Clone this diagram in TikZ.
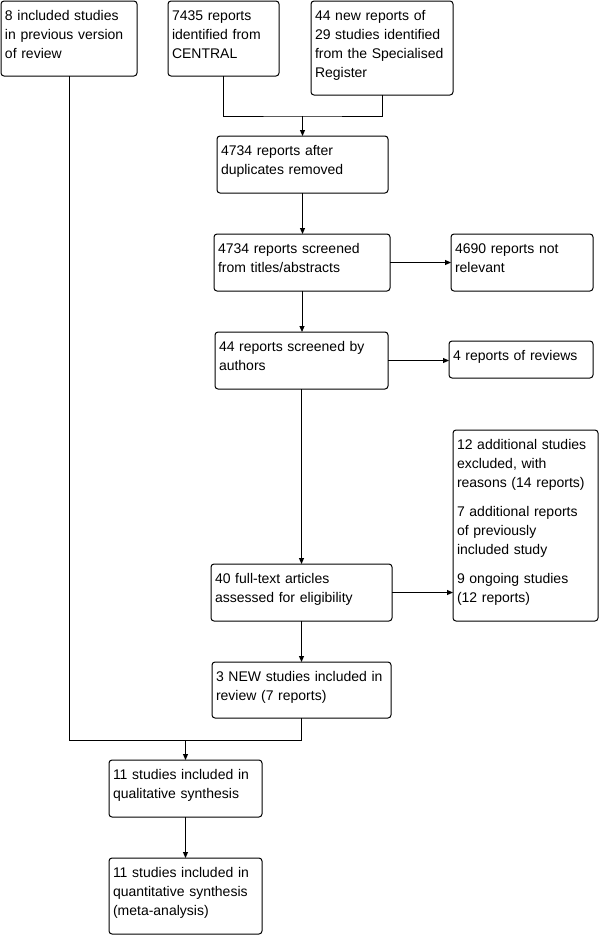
\documentclass[tikz,border=0pt]{standalone}
\usepackage{fontspec}
\setmainfont{Liberation Sans}
\usetikzlibrary{arrows.meta}

\tikzset{
    flowbox/.style={draw, line width=1pt, rounded corners=3pt, anchor=north west,
        align=left, inner xsep=4pt, inner ysep=7.5pt, outer sep=0pt,
        text height=12pt, font=\fontsize{14pt}{19pt}\selectfont},
    flowline/.style={line width=1pt},
    flowarrow/.style={line width=1pt, -{Triangle[length=6pt,width=5pt]}}
}

\begin{document}
\begin{tikzpicture}[x=1pt, y=-1pt]
    \useasboundingbox (0,0) rectangle (600,935);

    % Sources of records
    \node[flowbox, text width=128pt, text depth=48pt] (prev) at (1,1)
        {8 included studies\\in previous version\\of review};
    \node[flowbox, text width=103pt, text depth=48pt] (central) at (168,1)
        {7435 reports\\identified from\\CENTRAL};
    \node[flowbox, text width=134pt, text depth=67pt] (register) at (311,1)
        {44 new reports of\\29 studies identified\\from the Specialised\\Register};

    % Screening column
    \node[flowbox, text width=163pt, text depth=30pt] (dedup) at (217,136)
        {4734 reports after\\duplicates removed};
    \node[flowbox, text width=168pt, text depth=30pt] (titles) at (214,234)
        {4734 reports screened\\from titles/abstracts};
    \node[flowbox, text width=165pt, text depth=30pt] (authors) at (215,332)
        {44 reports screened by\\authors};
    \node[flowbox, text width=173pt, text depth=30pt] (fulltext) at (211,564)
        {40 full-text articles\\assessed for eligibility};
    \node[flowbox, text width=171pt, text depth=29pt] (newstudies) at (212,662)
        {3 NEW studies included in\\review (7 reports)};

    % Excluded records
    \node[flowbox, text width=134pt, text depth=30pt] (notrel) at (451,234)
        {4690 reports not\\relevant};
    \node[flowbox, text width=136pt, text depth=10pt] (reviews) at (449,341)
        {4 reports of reviews};
    \node[flowbox, text width=137pt, text depth=164pt] (excluded) at (453,430)
        {12 additional studies\\excluded, with\\reasons (14 reports)\\[10pt]
         7 additional reports\\of previously\\included study\\[10pt]
         9 ongoing studies\\(12 reports)};

    % Included studies
    \node[flowbox, text width=145pt, text depth=30pt] (qual) at (109,760)
        {11 studies included in\\qualitative synthesis};
    \node[flowbox, text width=145pt, text depth=49pt] (quant) at (109,858)
        {11 studies included in\\quantitative synthesis\\(meta-analysis)};

    % Joints of the merging lines
    \coordinate (merge) at (dedup.north |- 0,116);
    \coordinate (join) at (qual.north |- 0,740);

    % Connectors
    \draw[flowline] (central.south) |- (merge) -| (register.south);
    \draw[flowarrow] (merge) -- (dedup.north);
    \draw[flowarrow] (dedup.south) -- (dedup.south |- titles.north);
    \draw[flowarrow] (titles.east) -- (notrel.west);
    \draw[flowarrow] (titles.south) -- (titles.south |- authors.north);
    \draw[flowarrow] (authors.east) -- (authors.east -| reviews.west);
    \draw[flowarrow] (authors.south) -- (authors.south |- fulltext.north);
    \draw[flowarrow] (fulltext.east) -- (fulltext.east -| excluded.west);
    \draw[flowarrow] (fulltext.south) -- (fulltext.south |- newstudies.north);
    \draw[flowline] (prev.south) |- (join) -| (newstudies.south);
    \draw[flowarrow] (join) -- (qual.north);
    \draw[flowarrow] (qual.south) -- (quant.north);

\end{tikzpicture}
\end{document}
